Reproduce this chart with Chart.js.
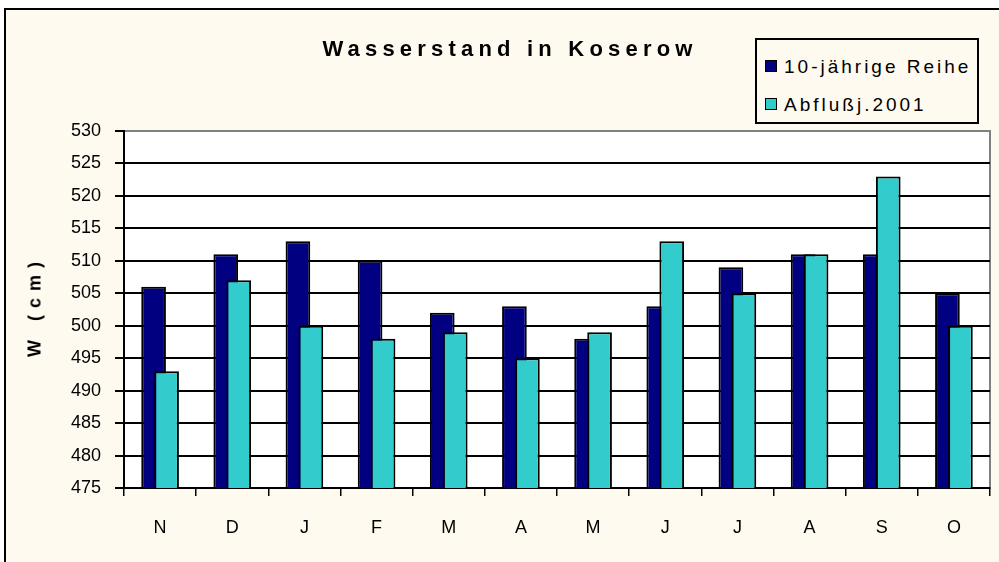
<!DOCTYPE html>
<html>
<head>
<meta charset="utf-8">
<script src="https://cdn.jsdelivr.net/npm/chart.js@4"></script>
<style>
  html, body { margin: 0; padding: 0; background: #fff; overflow: hidden; }
  body { width: 999px; height: 562px; position: relative; font-family: "Liberation Sans", Arial, sans-serif; }
  .frame { position: absolute; left: 4px; top: 8px; width: 1100px; height: 700px; border: 2px solid #000; background: #fffaf0; }
  .wrap { position: absolute; left: 0; top: 0; width: 999px; height: 562px; }
  .title { position: absolute; left: 0; width: 1020px; top: 36px; text-align: center; font-weight: bold; font-size: 22px; letter-spacing: 5.2px; color: #000; }
  .ytitle { position: absolute; left: 35px; top: 306px; transform: translate(-50%, -50%) rotate(-90deg); font-weight: bold; font-size: 18px; letter-spacing: 7px; white-space: nowrap; }
  .legend { position: absolute; left: 755px; top: 38px; width: 220px; height: 82px; border: 2px solid #000; background: #fffaf0; }
  .legend .item { position: absolute; left: 8px; font-size: 19px; letter-spacing: 3px; white-space: nowrap; }
  .legend .box { display: inline-block; width: 10px; height: 10px; border: 1.5px solid #000; margin-right: 7px; vertical-align: 1px; }
</style>
</head>
<body>
<div class="frame"></div>
<div class="wrap"><canvas id="chart" width="999" height="562"></canvas></div>
<div class="title">Wasserstand in Koserow</div>
<div class="ytitle">W (cm)</div>
<div class="legend" id="legend"></div>
<script>
// months Nov .. Oct (hydrological year)
const months = ["N", "D", "J", "F", "M", "A", "M", "J", "J", "A", "S", "O"];
const seriesNames = ["10-jährige Reihe", "Abflußj.2001"];
const seriesColors = ["#000080", "#33cccc"];
const reihe10 = [506, 511, 513, 510, 502, 503, 498, 503, 509, 511, 511, 505];
const abfluss2001 = [493, 507, 500, 498, 499, 495, 499, 513, 505, 511, 523, 500];
const yMin = 475, yMax = 530, yStep = 5;

// html legend
const legend = document.getElementById("legend");
seriesNames.forEach((name, i) => {
  const item = document.createElement("div");
  item.className = "item";
  item.style.top = (i === 0 ? 16 : 54) + "px";
  item.innerHTML = '<span class="box" style="background:' + seriesColors[i] + '"></span>' + name;
  legend.appendChild(item);
});

// white plot area with grey frame
const plotArea = {
  id: "plotArea",
  beforeDraw(chart) {
    const { ctx, chartArea: a } = chart;
    ctx.save();
    ctx.fillStyle = "#fff";
    ctx.fillRect(a.left, a.top, a.right - a.left, a.bottom - a.top);
    ctx.strokeStyle = "#808080";
    ctx.lineWidth = 2;
    ctx.strokeRect(a.left, a.top, a.right - a.left, a.bottom - a.top);
    ctx.restore();
  },
};

// draw the second series on top of the first one
const drawOrder = {
  id: "drawOrder",
  beforeDatasetDraw(chart, args) {
    if (args.index === 1) return false;
  },
  afterDatasetDraw(chart, args) {
    if (args.index !== 0) return;
    const { ctx, chartArea: a } = chart;
    ctx.save();
    ctx.beginPath();
    ctx.rect(a.left, a.top - 2, a.right - a.left, a.bottom - a.top + 2);
    ctx.clip();
    chart.getDatasetMeta(1).controller.draw();
    ctx.restore();
  },
};

new Chart(document.getElementById("chart"), {
  type: "bar",
  data: {
    labels: months,
    datasets: [
      {
        label: seriesNames[0],
        data: reihe10,
        backgroundColor: seriesColors[0],
        borderColor: "#000",
        borderWidth: 2,
        borderSkipped: "bottom",
      },
      {
        label: seriesNames[1],
        data: abfluss2001,
        backgroundColor: seriesColors[1],
        borderColor: "#000",
        borderWidth: 2,
        borderSkipped: "bottom",
      },
    ],
  },
  options: {
    responsive: false,
    animation: false,
    categoryPercentage: 0.36,
    barPercentage: 1.9,
    layout: { padding: { left: 0, top: 131, right: 9, bottom: 0 } },
    plugins: {
      legend: { display: false },
      title: { display: false },
      tooltip: { enabled: false },
    },
    scales: {
      x: {
        afterFit(scale) { scale.height = 74; },
        grid: { offset: true, drawOnChartArea: false, color: "#000", tickLength: 8, lineWidth: 1.5 },
        border: { color: "#000", width: 2 },
        ticks: { color: "#000", padding: 21, font: { family: "Liberation Sans", size: 18 } },
      },
      y: {
        min: yMin,
        max: yMax,
        afterFit(scale) { scale.width = 124; },
        grid: {
          color: (c) => (c.tick && c.tick.value === yMax ? "#808080" : "#000"),
          tickColor: "#000",
          tickLength: 9,
          lineWidth: 2,
        },
        border: { color: "#000", width: 2 },
        ticks: { stepSize: yStep, color: "#000", padding: 14, font: { family: "Liberation Sans", size: 18 } },
      },
    },
  },
  plugins: [plotArea, drawOrder],
});
</script>
</body>
</html>
